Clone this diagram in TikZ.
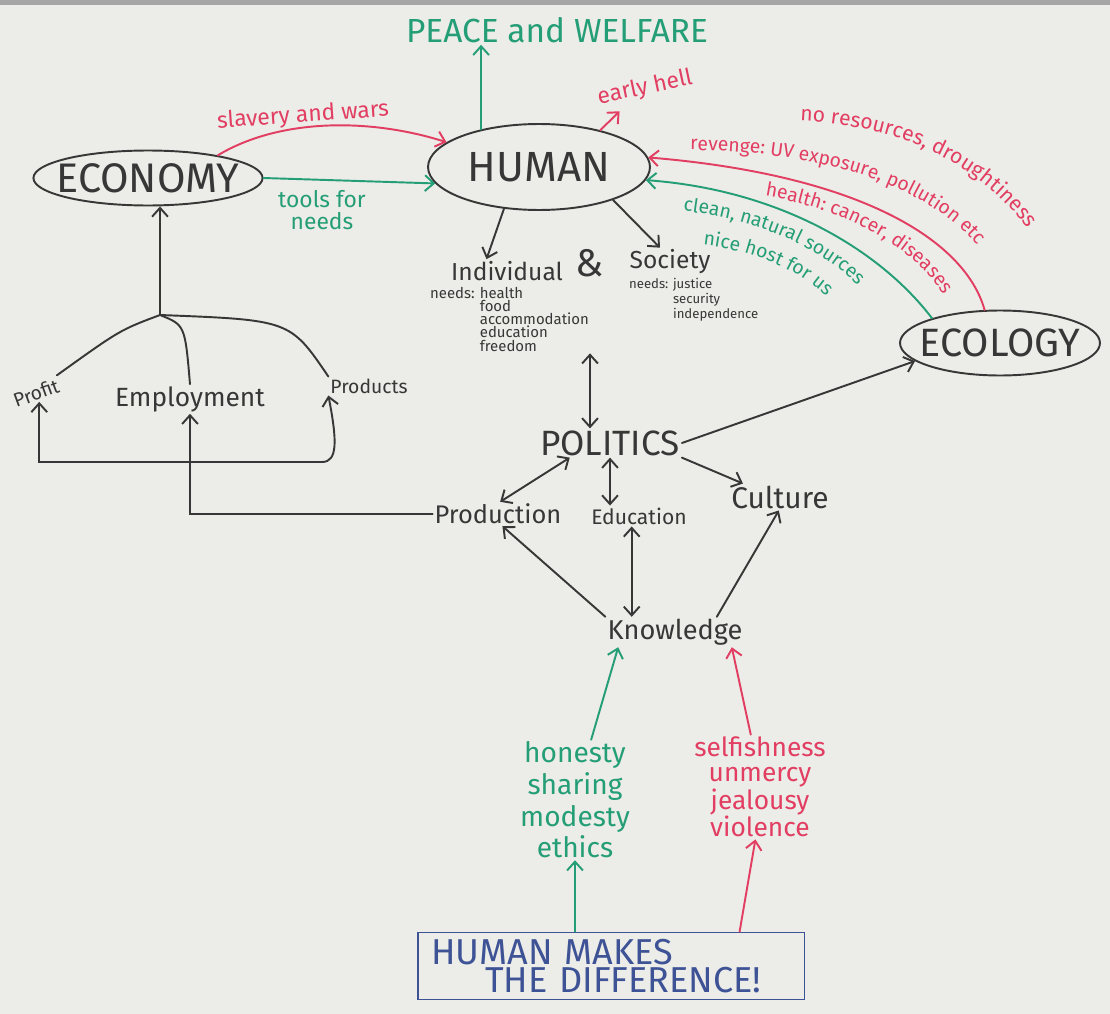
\documentclass[tikz,border=0pt]{standalone}
\usepackage{fontspec}
\setmainfont{Fira Sans}
\usetikzlibrary{shapes.geometric,arrows.meta,decorations.text}

\definecolor{board}{RGB}{236,236,232}
\definecolor{ink}{RGB}{55,55,55}
\definecolor{mgreen}{RGB}{36,158,118}
\definecolor{mred}{RGB}{226,62,98}
\definecolor{mblue}{RGB}{62,82,150}

\newcommand{\sz}[2]{\fontsize{#1}{#2}\selectfont}
\newcommand{\arcfont}{\fontsize{11}{12}\selectfont}
\newcommand{\arcfontb}{\fontsize{12}{13}\selectfont}

\tikzset{
  pen/.style={line width=1.1pt, line cap=round},
  oval/.style={draw=ink, pen, ellipse, inner xsep=-6pt, inner ysep=0pt, text=ink},
  word/.style={text=ink, inner sep=1pt},
}

\begin{document}
\begin{tikzpicture}[x=0.02cm, y=-0.02cm, >={Straight Barb[length=5pt,width=9pt]}]
            \useasboundingbox (0,0) rectangle (1110,1014);
            \fill[board] (0,0) rectangle (1110,1014); %Board
            \fill[gray!70] (0,0) rectangle (1110,5);

            \node[word, text=mgreen, font=\sz{19}{21}] (peace) at (557,30) {PEACE and WELFARE};
            \node[word, text=mred, rotate=12, font=\sz{13}{14}] (hell) at (645,88) {early hell};

            \node[oval, minimum width=4.44cm, minimum height=1.72cm, font=\sz{24}{26}] (human) at (539,167) {HUMAN};
            \node[oval, minimum width=4.54cm, minimum height=1.1cm, font=\sz{23.5}{25}] (economy) at (148,178) {ECONOMY};
            \node[oval, minimum width=4.0cm, minimum height=1.3cm, font=\sz{22.5}{24}] (ecology) at (1000,343) {ECOLOGY};

            \node[word, text=mred, rotate=4, font=\sz{13}{14}] (slavery) at (303,116) {slavery and wars};
            \node[word, text=mgreen, align=center, font=\sz{13}{13}] (tools) at (322,210) {tools for\\needs};

            \node[word, font=\sz{14}{16}] (individual) at (507,271) {Individual};
            \node[word, font=\sz{22}{24}] (amp) at (590,263) {\&};
            \node[word, font=\sz{14}{16}] (society) at (670,262) {Society};
            \node[word, anchor=north west, align=left, font=\sz{8.5}{7.5}] (indneeds) at (428,285)
              {needs: health\\\phantom{needs: }food\\\phantom{needs: }accommodation\\\phantom{needs: }education\\\phantom{needs: }freedom};
            \node[word, anchor=north west, align=left, font=\sz{7.5}{6.5}] (socneeds) at (627,276)
              {needs: justice\\\phantom{needs: }security\\\phantom{needs: }independence};

            \node[word, font=\sz{20}{22}] (politics) at (610,443) {POLITICS};
            \node[word, font=\sz{14.5}{16}] (production) at (498,514) {Production};
            \node[word, font=\sz{12}{14}] (education) at (639,516) {Education};
            \node[word, font=\sz{17}{19}] (culture) at (780,497) {Culture};
            \node[word, font=\sz{15.5}{17}] (knowledge) at (675,632) {Knowledge};

            \node[word, rotate=20, font=\sz{11}{12}] (profit) at (36,393) {Profit};
            \node[word, font=\sz{15}{16}] (employment) at (190,399) {Employment};
            \node[word, font=\sz{11}{12}] (products) at (369,386) {Products};

            \node[word, text=mgreen, align=center, font=\sz{16}{18}] (good) at (575,800) {honesty\\sharing\\modesty\\ethics};
            \node[word, text=mred, align=center, font=\sz{15}{14}] (bad) at (760,787) {selfishness\\unmercy\\jealousy\\violence};

            \node[draw=mblue, pen, text=mblue, align=left, minimum width=7.74cm, minimum height=1.34cm,
                  text width=7.2cm, font=\sz{20.5}{16}] (box) at (611,966)
              {HUMAN MAKES\\\hspace*{1.5em}THE DIFFERENCE!};

            % human links
            \draw[pen, mgreen, ->] (human.147) -- (human.147 |- peace.south);
            \draw[pen, mred, ->] (human.31) -- ([xshift=12pt]hell.south west);
            \draw[pen, mred, ->] (economy.18) .. controls (280,118) and (370,118) .. (human.165);
            \draw[pen, mgreen, ->] (economy.east) -- (human.189);
            \draw[pen, ink, ->] (human.230) -- (individual.150);
            \draw[pen, ink, ->] (human.-24) -- (society.125);

            % ecology arcs
            \draw[pen, mred, ->] (ecology.115) .. controls (965,240) and (860,175) .. (human.5);
            \draw[pen, mgreen, ->] (ecology.160) .. controls (880,250) and (780,190) .. (human.-7);
            \path[decorate, decoration={text along path, text color=mred, text={|\arcfont|revenge: UV exposure, pollution etc}}]
              (690,150) .. controls (860,152) and (975,205) .. (1008,298);
            \path[decorate, decoration={text along path, text color=mred, text={|\arcfontb|no resources, droughtiness}}]
              (800,121) .. controls (902,125) and (1012,168) .. (1058,285);
            \path[decorate, decoration={text along path, text color=mred, text={|\arcfont|health: cancer, diseases}}]
              (765,196) .. controls (850,210) and (920,250) .. (950,305);
            \path[decorate, decoration={text along path, text color=mgreen, text={|\arcfont|clean, natural sources}}]
              (683,211) .. controls (770,221) and (845,258) .. (880,312);
            \path[decorate, decoration={text along path, text color=mgreen, text={|\arcfont|nice host for us}}]
              (703,245) .. controls (765,252) and (815,278) .. (840,312);

            % politics
            \draw[pen, ink, <->] (indneeds.south -| amp.south) -- (politics.north -| amp.south);
            \draw[pen, ink, ->] (politics.east) -- (ecology.192);
            \draw[pen, ink, <->] (politics.-160) -- (production.80);
            \draw[pen, ink, <->] (politics.south) -- (politics.south |- education.north);
            \draw[pen, ink, ->] (politics.south east) -- (culture.160);

            % knowledge
            \draw[pen, ink, ->] (knowledge.north west) -- (production.-70);
            \draw[pen, ink, <->] (education.-125) -- (education.-125 |- knowledge.north);
            \draw[pen, ink, ->] (knowledge.20) -- (culture.-95);
            \draw[pen, mgreen, ->] (good.75) -- (knowledge.-165);
            \draw[pen, mred, ->] (bad.100) -- (knowledge.-15);
            \draw[pen, mgreen, ->] (good.south |- box.north) -- (good.south);
            \draw[pen, mred, ->] (box.15) -- (bad.-95);

            % economy tree
            \coordinate (ebranch) at (160,315);
            \draw[pen, ink, ->] (ebranch) -- (ebranch |- economy.south);
            \draw[pen, ink] (ebranch) .. controls (120,330) .. (profit.north east);
            \draw[pen, ink] (ebranch) .. controls (185,325) .. (employment.north);
            \draw[pen, ink] (ebranch) .. controls (290,320) .. (products.north west);

            \coordinate (pjoin) at (employment.south |- 0,462);
            \draw[pen, ink, ->] (production.west) -- (production.west -| employment.south) -- (employment.south);
            \draw[pen, ink, ->] (pjoin) -- (pjoin -| profit.south) -- (profit.south);
            \draw[pen, ink, ->] (pjoin) -- (322,462) .. controls (338,462) and (337,440) .. (products.south west);
        \end{tikzpicture}
\end{document}
